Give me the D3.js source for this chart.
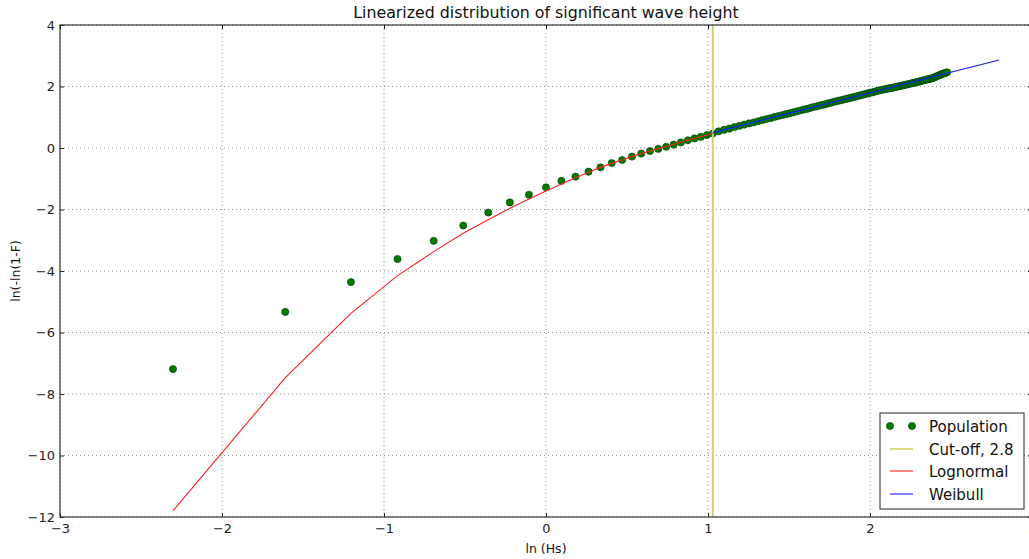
<!DOCTYPE html>
<html>
<head>
<meta charset="utf-8">
<script src="https://cdn.jsdelivr.net/npm/d3@7"></script>
<style>
  body { margin: 0; background: #fff; }
  text { font-family: "DejaVu Sans", sans-serif; }
</style>
</head>
<body>
<div id="chart"></div>
<script>
// significant wave height classes (m)
var hs = [0.1, 0.2, 0.3, 0.4, 0.5, 0.6, 0.7, 0.8, 0.9, 1.0,
          1.1, 1.2, 1.3, 1.4, 1.5, 1.6, 1.7, 1.8, 1.9, 2.0,
          2.1, 2.2, 2.3, 2.4, 2.5, 2.6, 2.7, 2.8, 2.9, 3.0,
          3.1, 3.2, 3.3, 3.4, 3.5, 3.6, 3.7, 3.8, 3.9, 4.0,
          4.1, 4.2, 4.3, 4.4, 4.5, 4.6, 4.7, 4.8, 4.9, 5.0,
          5.1, 5.2, 5.3, 5.4, 5.5, 5.6, 5.7, 5.8, 5.9, 6.0,
          6.1, 6.2, 6.3, 6.4, 6.5, 6.6, 6.7, 6.8, 6.9, 7.0,
          7.1, 7.2, 7.3, 7.4, 7.5, 7.6, 7.7, 7.8, 7.9, 8.0,
          8.1, 8.2, 8.3, 8.4, 8.5, 8.6, 8.7, 8.8, 8.9, 9.0,
          9.1, 9.2, 9.3, 9.4, 9.5, 9.6, 9.7, 9.8, 9.9, 10.0,
          10.1, 10.2, 10.3, 10.4, 10.5, 10.6, 10.7, 10.8, 10.9, 11.0,
          11.1, 11.2, 11.3, 11.4, 11.5, 11.6, 11.7, 11.8, 11.9];

// ln(-ln(1-F)) of the population
var population = [-7.19, -5.33, -4.36, -3.61, -3.02, -2.52, -2.10, -1.77, -1.52, -1.28,
                  -1.07, -0.93, -0.77, -0.63, -0.49, -0.39, -0.28, -0.18, -0.10, -0.03,
                  0.04, 0.11, 0.18, 0.25, 0.31, 0.36, 0.42, 0.47, 0.54, 0.59,
                  0.63, 0.68, 0.72, 0.76, 0.80, 0.83, 0.87, 0.91, 0.94, 0.97,
                  1.01, 1.04, 1.07, 1.10, 1.13, 1.16, 1.19, 1.22, 1.25, 1.27,
                  1.30, 1.33, 1.35, 1.38, 1.40, 1.42, 1.45, 1.47, 1.50, 1.52,
                  1.54, 1.56, 1.58, 1.60, 1.62, 1.64, 1.66, 1.68, 1.70, 1.72,
                  1.74, 1.76, 1.78, 1.80, 1.81, 1.83, 1.85, 1.87, 1.88, 1.90,
                  1.91, 1.925, 1.94, 1.95, 1.96, 1.975, 1.99, 2.00, 2.015, 2.03,
                  2.04, 2.055, 2.07, 2.08, 2.095, 2.11, 2.12, 2.135, 2.15, 2.16,
                  2.175, 2.19, 2.20, 2.215, 2.23, 2.24, 2.25, 2.26, 2.28, 2.30,
                  2.32, 2.34, 2.36, 2.38, 2.40, 2.42, 2.43, 2.45, 2.46];

// lognormal fit below the cut-off
var lognormalHs = hs.slice(0, 28);
var lognormal = [-11.80, -7.47, -5.38, -4.15, -3.37, -2.77, -2.33, -1.96, -1.66, -1.40,
                 -1.17, -0.97, -0.79, -0.63, -0.50, -0.39, -0.28, -0.18, -0.10, -0.02,
                 0.05, 0.12, 0.19, 0.25, 0.31, 0.37, 0.42, 0.47];

// weibull fit above the cut-off
var weibullHs = [2.8, 16.4];
var weibull = [0.5, 2.86];

var cutoff = 2.8;

var xTicks = [-3, -2, -1, 0, 1, 2, 3];
var yTicks = [-12, -10, -8, -6, -4, -2, 0, 2, 4];

var legendNames = ["Population", "Cut-off, " + cutoff, "Lognormal", "Weibull"];

//margins
var margin = { top: 25, bottom: 42, left: 60, right: -3 };
var W = 1029, H = 559;
var width = W - margin.left - margin.right;
var height = H - margin.top - margin.bottom;

var xScale = d3.scaleLinear().domain([-3, 3]).range([0, width]);
var yScale = d3.scaleLinear().domain([-12, 4]).range([height, 0]);

var svg = d3.select("#chart")
    .append("svg")
    .attr("width", W)
    .attr("height", H)
    .style("display", "block");

var g = svg.append("g")
    .attr("transform", "translate(" + margin.left + "," + margin.top + ")");

g.append("clipPath").attr("id", "clip")
    .append("rect").attr("width", width).attr("height", height);

//grid
g.selectAll(".gx").data(xTicks).enter().append("line")
    .attr("x1", d => xScale(d)).attr("x2", d => xScale(d))
    .attr("y1", 0).attr("y2", height)
    .attr("stroke", "#000").attr("stroke-opacity", 0.55)
    .attr("stroke-width", 0.8).attr("stroke-dasharray", "1,3");
g.selectAll(".gy").data(yTicks).enter().append("line")
    .attr("x1", 0).attr("x2", width)
    .attr("y1", d => yScale(d)).attr("y2", d => yScale(d))
    .attr("stroke", "#000").attr("stroke-opacity", 0.55)
    .attr("stroke-width", 0.8).attr("stroke-dasharray", "1,3");

var plot = g.append("g").attr("clip-path", "url(#clip)");

//population dots
plot.selectAll("circle")
    .data(hs)
    .enter()
    .append("circle")
    .attr("cx", d => xScale(Math.log(d)))
    .attr("cy", (d, i) => yScale(population[i]))
    .attr("r", 3.6)
    .attr("fill", "#007a00")
    .attr("stroke", "#0b3d0b")
    .attr("stroke-width", 0.6);

//cut-off line
plot.append("line")
    .attr("x1", xScale(Math.log(cutoff))).attr("x2", xScale(Math.log(cutoff)))
    .attr("y1", 0).attr("y2", height)
    .attr("stroke", "#d6d26c").attr("stroke-width", 2);

var line = d3.line()
    .x(d => xScale(Math.log(d[0])))
    .y(d => yScale(d[1]));

//lognormal
plot.append("path")
    .datum(lognormalHs.map((d, i) => [d, lognormal[i]]))
    .attr("d", line)
    .attr("fill", "none")
    .attr("stroke", "#ff2020")
    .attr("stroke-width", 1.1);

//weibull
plot.append("path")
    .datum(weibullHs.map((d, i) => [d, weibull[i]]))
    .attr("d", line)
    .attr("fill", "none")
    .attr("stroke", "#1a1aff")
    .attr("stroke-width", 1.1);

//axes with inward ticks
var x_axis = d3.axisBottom(xScale).tickValues(xTicks).tickFormat(d3.format("d"))
    .tickSize(-4).tickPadding(7);
var xg = g.append("g").attr("transform", "translate(0," + height + ")").call(x_axis);
var y_axis = d3.axisLeft(yScale).tickValues(yTicks).tickFormat(d3.format("d"))
    .tickSize(-4).tickPadding(5);
var yg = g.append("g").call(y_axis);
[xg, yg].forEach(a => {
    a.select(".domain").remove();
    a.selectAll("text").attr("font-size", 13).attr("fill", "#222")
        .style("font-family", "DejaVu Sans, sans-serif");
    a.selectAll("line").attr("stroke", "#222");
});

//ticks on top and right
g.append("g").call(d3.axisTop(xScale).tickValues(xTicks).tickSize(-4).tickFormat(""))
    .call(a => a.select(".domain").remove());
g.append("g").attr("transform", "translate(" + width + ",0)")
    .call(d3.axisRight(yScale).tickValues(yTicks).tickSize(-4).tickFormat(""))
    .call(a => a.select(".domain").remove());

//frame
g.append("rect")
    .attr("width", width).attr("height", height)
    .attr("fill", "none").attr("stroke", "#333").attr("stroke-width", 1.2);

//title and labels
g.append("text")
    .attr("x", width / 2).attr("y", -7)
    .attr("text-anchor", "middle")
    .attr("font-size", 15.8).attr("fill", "#111")
    .text("Linearized distribution of significant wave height");

g.append("text")
    .attr("x", width / 2).attr("y", height + 36)
    .attr("text-anchor", "middle")
    .attr("font-size", 12.5).attr("fill", "#111")
    .text("ln (Hs)");

g.append("text")
    .attr("transform", "rotate(-90)")
    .attr("x", -height / 2).attr("y", -40)
    .attr("text-anchor", "middle")
    .attr("font-size", 12.5).attr("fill", "#111")
    .text("ln(-ln(1-F)");

//legend
var lg = svg.append("g").attr("transform", "translate(880,413)");
lg.append("rect")
    .attr("width", 144).attr("height", 96)
    .attr("fill", "#fff").attr("stroke", "#222").attr("stroke-width", 1);

var rowY = [13, 36, 58, 81];
var legendColors = [null, "#d6d26c", "#ff2020", "#1a1aff"];
legendNames.forEach((name, i) => {
    if (i == 0) {
        [10, 32].forEach(cx => {
            lg.append("circle").attr("cx", cx).attr("cy", rowY[i]).attr("r", 3.6)
                .attr("fill", "#007a00").attr("stroke", "#0b3d0b").attr("stroke-width", 0.6);
        });
    } else {
        lg.append("line")
            .attr("x1", 10).attr("x2", 33)
            .attr("y1", rowY[i]).attr("y2", rowY[i])
            .attr("stroke", legendColors[i]).attr("stroke-width", i == 1 ? 1.6 : 1.1);
    }
    lg.append("text")
        .attr("x", 49).attr("y", rowY[i] + 5.5)
        .attr("font-size", 15).attr("fill", "#111")
        .text(name);
});
</script>
</body>
</html>
